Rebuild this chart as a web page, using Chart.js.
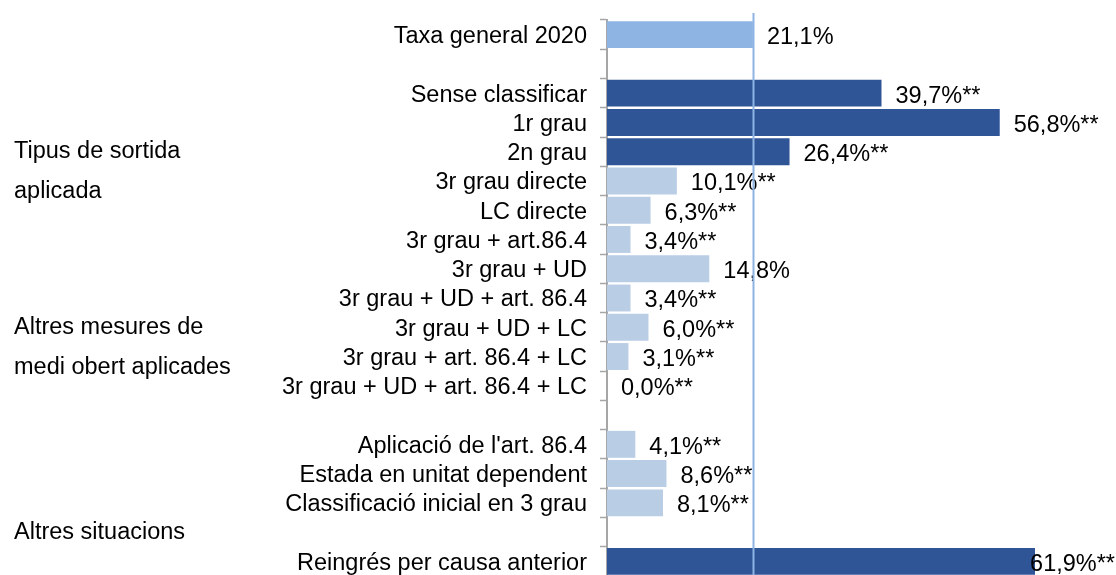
<!DOCTYPE html>
<html>
<head>
<meta charset="utf-8">
<script src="https://cdn.jsdelivr.net/npm/chart.js@4.4.0/dist/chart.umd.min.js"></script>
<style>
  html, body { margin: 0; padding: 0; background: #fff; overflow: hidden; }
  #wrap { width: 1116px; height: 576px; }
</style>
</head>
<body>
<div id="wrap"><canvas id="c" width="1116" height="576"></canvas></div>
<script>
// ---- data ----
const categories = [
  'Taxa general 2020', '',
  'Sense classificar', '1r grau', '2n grau', '3r grau directe', 'LC directe',
  '3r grau + art.86.4', '3r grau + UD', '3r grau + UD + art. 86.4', '3r grau + UD + LC',
  '3r grau + art. 86.4 + LC', '3r grau + UD + art. 86.4 + LC', '',
  "Aplicació de l'art. 86.4", 'Estada en unitat dependent', 'Classificació inicial en 3 grau', '',
  'Reingrés per causa anterior'
];
const values = [
  21.1, null,
  39.7, 56.8, 26.4, 10.1, 6.3,
  3.4, 14.8, 3.4, 6.0,
  3.1, 0.0, null,
  4.1, 8.6, 8.1, null,
  61.9
];
const significance = [
  '', '',
  '**', '**', '**', '**', '**',
  '**', '', '**', '**',
  '**', '**', '',
  '**', '**', '**', '',
  '**'
];
const generalRate = 21.1;
const groupLabels = [
  { lines: ['Tipus de sortida', 'aplicada'], row: 4 },
  { lines: ['Altres mesures de', 'medi obert aplicades'], row: 10 },
  { lines: ['Altres situacions'], row: 17 }
];

// ---- styles ----
const FONT = '"Liberation Sans", Arial, sans-serif';
const FS = 23.5;
const COL_TOTAL = '#8EB4E3';
const COL_HIGH = '#2F5597';
const COL_LOW = '#B9CDE5';
const barColors = values.map((v, i) => {
  if (i === 0) return COL_TOTAL;
  if (v !== null && significance[i] === '**' && v > generalRate) return COL_HIGH;
  return COL_LOW;
});

function fmt(v) { return v.toFixed(1).replace('.', ',') + '%'; }

const valueLabels = {
  id: 'valueLabels',
  afterDatasetsDraw(chart) {
    const { ctx, scales: { x, y } } = chart;
    ctx.save();
    ctx.font = FS + 'px ' + FONT;
    ctx.fillStyle = '#000';
    ctx.textAlign = 'left';
    ctx.textBaseline = 'middle';
    values.forEach((v, i) => {
      if (v === null) return;
      const txt = fmt(v) + significance[i];
      const w = ctx.measureText(txt).width;
      let px = x.getPixelForValue(v) + 14;
      if (px + w > chart.width - 1) px = chart.width - 1 - w;
      ctx.fillText(txt, px, y.getPixelForValue(i) + 3);
    });
    ctx.restore();
  }
};

const refLine = {
  id: 'refLine',
  afterDraw(chart) {
    const { ctx, scales: { x }, chartArea } = chart;
    const px = Math.round(x.getPixelForValue(generalRate)) + 0.5;
    ctx.save();
    ctx.strokeStyle = COL_TOTAL;
    ctx.lineWidth = 2;
    ctx.beginPath();
    ctx.moveTo(px, chartArea.top - 7);
    ctx.lineTo(px, chart.height);
    ctx.stroke();
    ctx.restore();
  }
};

const groupText = {
  id: 'groupText',
  afterDraw(chart) {
    const { ctx, scales: { y } } = chart;
    ctx.save();
    ctx.font = FS + 'px ' + FONT;
    ctx.fillStyle = '#000';
    ctx.textAlign = 'left';
    ctx.textBaseline = 'middle';
    groupLabels.forEach(g => {
      const y0 = y.getPixelForValue(g.row);
      g.lines.forEach((t, k) => ctx.fillText(t, 14, y0 + k * 40));
    });
    ctx.restore();
  }
};

new Chart(document.getElementById('c'), {
  type: 'bar',
  data: {
    labels: categories,
    datasets: [{
      data: values,
      backgroundColor: barColors,
      borderWidth: 0,
      barPercentage: 0.92,
      categoryPercentage: 1.0
    }]
  },
  options: {
    indexAxis: 'y',
    responsive: false,
    animation: false,
    devicePixelRatio: 1,
    layout: { padding: { left: 7, right: 25, top: 20, bottom: 0 } },
    plugins: { legend: { display: false }, tooltip: { enabled: false } },
    scales: {
      x: { display: false, min: 0, max: 70 },
      y: {
        afterFit(scale) { scale.width = 600; scale.paddingTop = 0; scale.paddingBottom = 0; },
        border: { display: true, color: '#A6A6A6', width: 2 },
        grid: { display: true, drawOnChartArea: false, drawTicks: true, tickLength: 7, tickColor: '#A6A6A6', tickWidth: 1.5, offset: true },
        ticks: { color: '#000', font: { family: FONT, size: FS }, padding: 13, autoSkip: false, labelOffset: 2 }
      }
    }
  },
  plugins: [valueLabels, refLine, groupText]
});
</script>
</body>
</html>
